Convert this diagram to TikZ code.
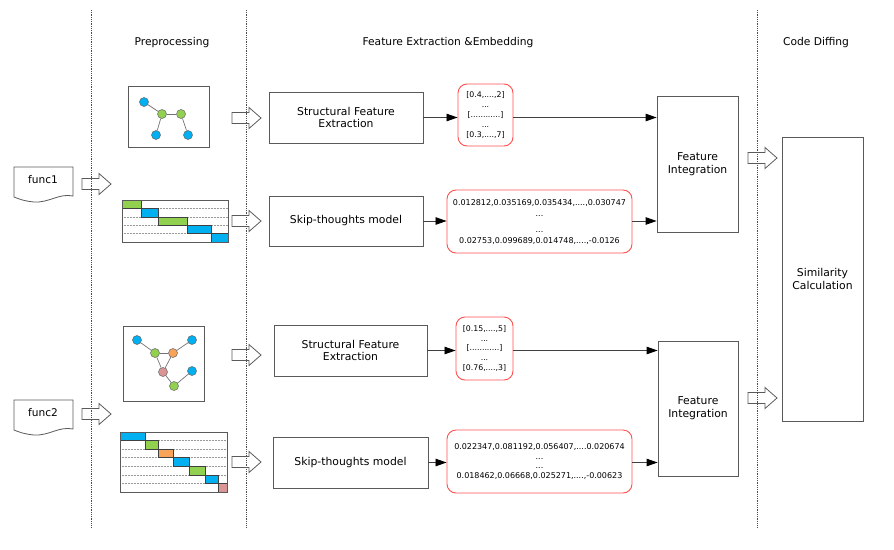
\documentclass[tikz,border=0pt]{standalone}
\usepackage{fontspec}
\setmainfont{DejaVu Sans}
\usetikzlibrary{arrows.meta}
\definecolor{cblue}{RGB}{0,176,240}
\definecolor{cgreen}{RGB}{146,208,80}
\definecolor{corange}{RGB}{247,163,89}
\definecolor{cpink}{RGB}{217,150,148}
\definecolor{vred}{RGB}{255,80,80}
\definecolor{bdr}{RGB}{90,90,90}
\begin{document}
\begin{tikzpicture}[x=1pt,y=-1pt,
  box/.style={draw=bdr, line width=0.8pt, fill=white, align=center, font=\fontsize{10.8}{12.8}\selectfont, inner sep=0pt},
  vec/.style={draw=vred, line width=0.9pt, rounded corners=9pt, inner sep=0pt, align=center},
  conn/.style={draw=black!75, line width=0.8pt, -{Triangle[length=11pt,width=7.5pt,color=black]}},
  vtx/.style={circle, draw=black!60, line width=0.5pt, minimum size=9pt, inner sep=0pt},
  gedge/.style={draw=black!55, line width=0.7pt},
  gbox/.style={draw=bdr, line width=0.8pt, inner sep=0pt},
  sep/.style={draw=black!70, densely dotted, line width=0.8pt},
  hdr/.style={font=\fontsize{10.7}{12}\selectfont, inner sep=0pt},
  rowline/.style={draw=black!40, densely dotted, line width=0.5pt},
  blk/.style={draw=black!75, line width=0.6pt},
  hollow/.pic={\draw[bdr, line width=0.8pt] (0,-5.5) -- (17,-5.5) -- (17,-10.5) -- (29,0) -- (17,10.5) -- (17,5.5) -- (0,5.5) -- cycle;},
  docshape/.pic={\draw[bdr, line width=0.8pt] (0,0) -- (59,0) -- (59,29) .. controls (45,26) and (35,36) .. (20,35) .. controls (10,34) and (5,32) .. (0,30) -- cycle;}
]
\useasboundingbox (0,0) rectangle (894,549);

% separators
\draw[sep] (91,10) -- (91,528);
\draw[sep] (246,10) -- (246,528);
\draw[sep] (757,10) -- (757,528);

% headers
\node[hdr] (h1) at (172,43) {Preprocessing};
\node[hdr] (h2) at (448,43) {Feature Extraction \&Embedding};
\node[hdr] (h3) at (816,43) {Code Diffing};

% function documents
\pic at (14,167) {docshape};
\node[hdr, font=\fontsize{10.6}{12}\selectfont] (f1) at (43,180) {func1};
\pic at (14,400) {docshape};
\node[hdr, font=\fontsize{10.6}{12}\selectfont] (f2) at (43,413) {func2};

% hollow arrows
\pic at (82,184) {hollow};
\pic at (82,414) {hollow};
\pic at (232,118) {hollow};
\pic at (232,221) {hollow};
\pic at (232,355) {hollow};
\pic at (232,462) {hollow};
\pic at (748,158) {hollow};
\pic at (748,398) {hollow};

% graph 1
\node[gbox, minimum width=81pt, minimum height=61pt] (g1) at (168.5,116.5) {};
\node[vtx, fill=cblue] (a1) at (144,102) {};
\node[vtx, fill=cgreen] (a2) at (162,114) {};
\node[vtx, fill=cgreen] (a3) at (181,114) {};
\node[vtx, fill=cblue] (a4) at (156,135) {};
\node[vtx, fill=cblue] (a5) at (188,135) {};
\draw[gedge] (a1) -- (a2);
\draw[gedge] (a2) -- (a3);
\draw[gedge] (a2) -- (a4);
\draw[gedge] (a3) -- (a5);

% graph 2
\node[gbox, minimum width=81pt, minimum height=75pt] (g2) at (163.5,363.5) {};
\node[vtx, fill=cblue] (b1) at (137,340) {};
\node[vtx, fill=cgreen] (b2) at (155,353) {};
\node[vtx, fill=corange] (b3) at (173,353) {};
\node[vtx, fill=cblue] (b4) at (192,340) {};
\node[vtx, fill=cpink] (b5) at (163,372) {};
\node[vtx, fill=cblue] (b6) at (192,371) {};
\node[vtx, fill=cgreen] (b7) at (174,386) {};
\draw[gedge] (b1) -- (b2);
\draw[gedge] (b2) -- (b3);
\draw[gedge] (b3) -- (b4);
\draw[gedge] (b2) -- (b5);
\draw[gedge] (b3) -- (b5);
\draw[gedge] (b5) -- (b7);
\draw[gedge] (b7) -- (b6);

% stair chart 1
\foreach \i in {1,...,4} {\draw[rowline] (122,{200+\i*8.4}) -- (228,{200+\i*8.4});}
\foreach \xa/\xb/\c [count=\i from 0] in {122/141/cgreen,141/158/cblue,158/187/cgreen,187/211/cblue,211/228/cblue}
  {\draw[blk, fill=\c] (\xa,{200+\i*8.4}) rectangle (\xb,{200+(\i+1)*8.4});}
\node[gbox, minimum width=106pt, minimum height=42pt] (s1) at (175,221) {};

% stair chart 2
\foreach \i in {1,...,6} {\draw[rowline] (120,{432+\i*8.57}) -- (227,{432+\i*8.57});}
\foreach \xa/\xb/\c [count=\i from 0] in {120/145/cblue,145/158/cgreen,158/173/corange,173/189/cblue,189/205/cgreen,205/218/cblue,218/227/cpink}
  {\draw[blk, fill=\c] (\xa,{432+\i*8.57}) rectangle (\xb,{432+(\i+1)*8.57});}
\node[gbox, minimum width=107pt, minimum height=60pt] (s2) at (173.5,462) {};

% processing boxes
\node[box, minimum width=154pt, minimum height=51pt] (sfe1) at (346,117.5) {Structural Feature\\Extraction};
\node[box, minimum width=154pt, minimum height=50pt] (skip1) at (346,221) {Skip-thoughts model};
\node[box, minimum width=153pt, minimum height=51pt] (sfe2) at (350.5,350.5) {Structural Feature\\Extraction};
\node[box, minimum width=155pt, minimum height=51pt] (skip2) at (350.5,462.5) {Skip-thoughts model};

% vectors
\node[vec, minimum width=55pt, minimum height=62pt, font=\fontsize{7.8}{9.8}\selectfont] (v1) at (485.5,115)
  {{[}0.4,....,2{]}\\...\\{[}............{]}\\...\\{[}0.3,....,7{]}};
\node[vec, minimum width=185pt, minimum height=63pt, font=\fontsize{8}{11}\selectfont] (v2) at (539.5,221.5)
  {0.012812,0.035169,0.035434,....,0.030747\\...\\[5pt]...\\0.02753,0.099689,0.014748,....,-0.0126};
\node[vec, minimum width=57pt, minimum height=63pt, font=\fontsize{7.8}{9.6}\selectfont] (v3) at (484.5,348.5)
  {{[}0.15,....,5{]}\\...\\{[}............{]}\\...\\{[}0.76,....,3{]}};
\node[vec, minimum width=185pt, minimum height=63pt, font=\fontsize{8}{9.7}\selectfont] (v4) at (539.5,461.5)
  {0.022347,0.081192,0.056407,....0.020674\\...\\...\\0.018462,0.06668,0.025271,....,-0.00623};

% integration and similarity
\node[box, minimum width=81pt, minimum height=136pt] (fi1) at (697.5,164) {Feature\\Integration};
\node[box, minimum width=80pt, minimum height=135pt] (fi2) at (698,408.5) {Feature\\Integration};
\node[box, minimum width=81pt, minimum height=284pt, font=\fontsize{10.8}{13.3}\selectfont] (sim) at (822.5,279) {Similarity\\Calculation};

% connectors
\draw[conn] (sfe1.east) -- (v1.west |- sfe1.east);
\draw[conn] (v1.east |- sfe1.east) -- (fi1.west |- sfe1.east);
\draw[conn] (skip1.east) -- (v2.west |- skip1.east);
\draw[conn] (v2.east |- skip1.east) -- (fi1.west |- skip1.east);
\draw[conn] (sfe2.east) -- (v3.west |- sfe2.east);
\draw[conn] (v3.east |- sfe2.east) -- (fi2.west |- sfe2.east);
\draw[conn] (skip2.east) -- (v4.west |- skip2.east);
\draw[conn] (v4.east |- skip2.east) -- (fi2.west |- skip2.east);
\end{tikzpicture}
\end{document}
